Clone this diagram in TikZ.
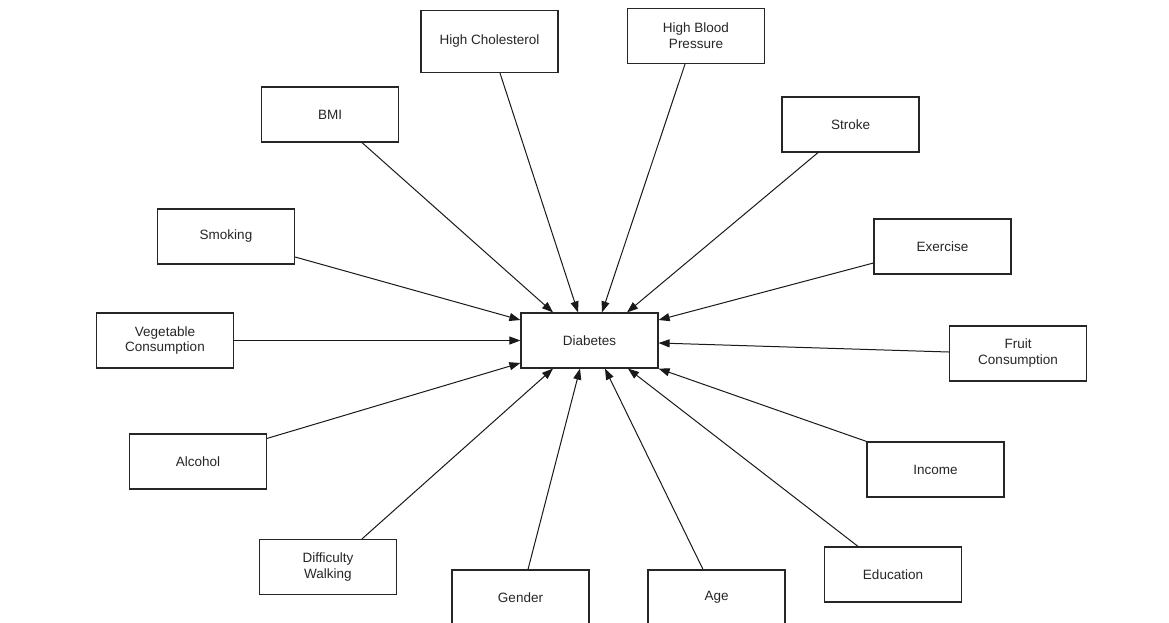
\documentclass[tikz,border=0pt]{standalone}
\usepackage{fontspec}
\setmainfont{Liberation Sans}
\usetikzlibrary{arrows.meta,calc}
\tikzset{
  factor/.style={draw=black!85, line width=1.2pt, fill=white, minimum width=137pt, minimum height=55pt,
    inner sep=2pt, align=center, font=\fontsize{13.5}{16}\selectfont, text=black!85},
  link/.style={draw=black!90, line width=1pt, -{Triangle[length=11pt,width=8pt]}}
}
\begin{document}
\begin{tikzpicture}[x=1pt,y=-1pt]
\clip (0,0) rectangle (1169,622);
\fill[white] (0,0) rectangle (1169,622);
\node[factor, minimum height=62pt] (hc) at (489.5,41.5) {High Cholesterol};
\node[factor] (hbp) at (696,36) {High Blood\\Pressure};
\node[factor] (bmi) at (330,114.5) {BMI};
\node[factor] (stk) at (850.5,124.5) {Stroke};
\node[factor] (smk) at (226,236.5) {Smoking};
\node[factor] (ex) at (942.5,246.5) {Exercise};
\node[factor] (veg) at (165,340.5) {Vegetable\\Consumption};
\node[factor] (dia) at (589.5,340.5) {Diabetes};
\node[factor] (fru) at (1018,353.5) {Fruit\\Consumption};
\node[factor] (alc) at (198,461.5) {Alcohol};
\node[factor] (inc) at (935.5,469.5) {Income};
\node[factor] (dw) at (328,567) {Difficulty\\Walking};
\node[factor] (edu) at (893,574.5) {Education};
\node[factor] (gen) at (520.5,597.5) {Gender};
\node[factor] (age) at (716.5,597.5) {Age};

\draw[link] ($(bmi.south)+(32,0)$) -- ($(dia.north)+(-36.5,0)$);
\draw[link] ($(hc.south)+(10.5,0)$) -- ($(dia.north)+(-11.5,0)$);
\draw[link] ($(hbp.south)+(-11,0)$) -- ($(dia.north)+(12.5,0)$);
\draw[link] ($(stk.south)+(-32.5,0)$) -- ($(dia.north)+(37.5,0)$);
\draw[link] ($(smk.east)+(0,20.5)$) -- ($(dia.west)+(0,-20.5)$);
\draw[link] ($(ex.west)+(0,16.5)$) -- ($(dia.east)+(0,-20.5)$);
\draw[link] (veg.east) -- (dia.west);
\draw[link] ($(fru.west)+(0,-1.5)$) -- ($(dia.east)+(0,2.5)$);
\draw[link] ($(alc.north east)+(0,5)$) -- ($(dia.west)+(0,22.5)$);
\draw[link] (inc.north west) -- (dia.south east);
\draw[link] ($(dw.north)+(34,0)$) -- ($(dia.south)+(-36.5,0)$);
\draw[link] ($(gen.north)+(7.5,0)$) -- ($(dia.south)+(-9.5,0)$);
\draw[link] ($(age.north)+(-13.5,0)$) -- ($(dia.south)+(15.5,0)$);
\draw[link] ($(edu.north)+(-35,0)$) -- ($(dia.south)+(38.5,0)$);
\end{tikzpicture}
\end{document}
